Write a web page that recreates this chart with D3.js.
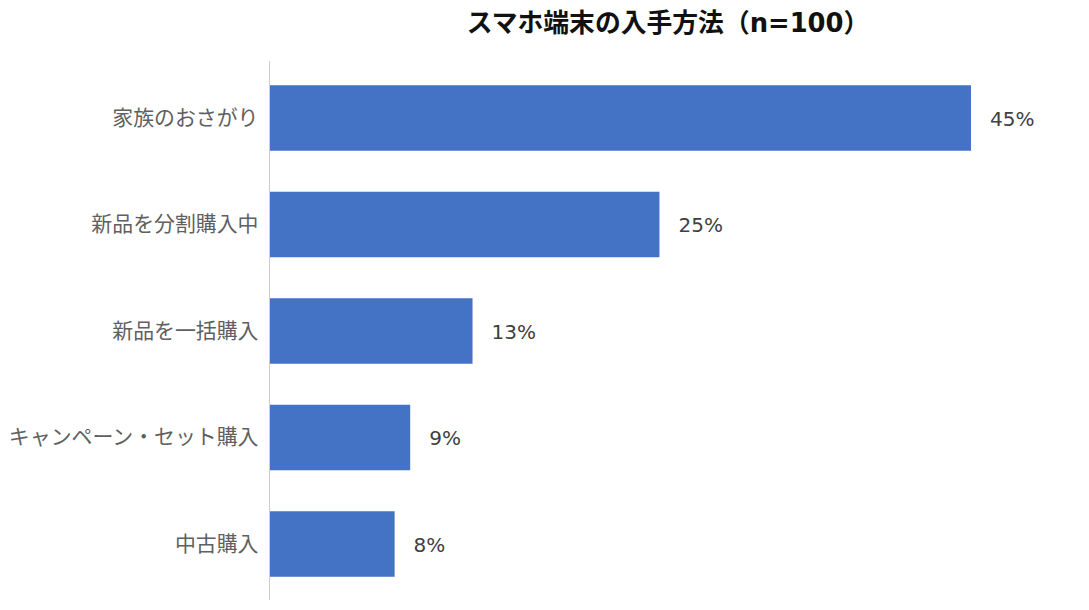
<!DOCTYPE html>
<html>
<head>
<meta charset="utf-8">
<script src="https://cdn.jsdelivr.net/npm/d3@7"></script>
<style>
  body { margin: 0; background: #fff; }
  text { font-family: "DejaVu Sans", "Noto Sans CJK JP", sans-serif; }
</style>
</head>
<body>
<script>
const categories = ["家族のおさがり", "新品を分割購入中", "新品を一括購入", "キャンペーン・セット購入", "中古購入"];
const values = [45, 25, 13, 9, 8];
const title = "スマホ端末の入手方法（n=100）";

const W = 1089, H = 610;
const margin = {top: 65, right: 118, bottom: 13, left: 270};

const svg = d3.select("body").append("svg")
  .attr("width", W)
  .attr("height", H);

const x = d3.scaleLinear()
  .domain([0, 45])
  .range([margin.left, 971]);

const y = d3.scaleBand()
  .domain(categories)
  .range([margin.top, H - margin.bottom])
  .paddingInner(0.385)
  .paddingOuter(0.19);

svg.append("text")
  .attr("x", 668)
  .attr("y", 32)
  .attr("text-anchor", "middle")
  .attr("font-size", 25.8)
  .attr("font-weight", "bold")
  .attr("fill", "#111")
  .text(title);

svg.selectAll(".bar")
  .data(values)
  .enter()
  .append("rect")
  .attr("class", "bar")
  .attr("x", x(0))
  .attr("y", (d, i) => y(categories[i]))
  .attr("width", d => x(d) - x(0))
  .attr("height", y.bandwidth())
  .attr("fill", "#4472c4");

// category labels, no ticks
const yAxis = svg.append("g")
  .attr("transform", "translate(" + (margin.left - 0.5) + ",0)")
  .call(d3.axisLeft(y).tickSize(0).tickPadding(11));
yAxis.select(".domain").remove();
yAxis.selectAll("text")
  .attr("font-size", 20.9)
  .attr("fill", "#5f5f5f")
  .style("font-family", "\"Noto Sans CJK JP\", sans-serif");

svg.append("line")
  .attr("x1", margin.left - 0.5).attr("x2", margin.left - 0.5)
  .attr("y1", 61).attr("y2", 600)
  .attr("stroke", "#cccccc")
  .attr("stroke-width", 1);

svg.selectAll(".val")
  .data(values)
  .enter()
  .append("text")
  .attr("class", "val")
  .attr("x", d => x(d) + 19)
  .attr("y", (d, i) => y(categories[i]) + y.bandwidth() / 2)
  .attr("dy", "0.38em")
  .attr("font-size", 20)
  .attr("fill", "#404040")
  .text(d => d + "%");
</script>
</body>
</html>
